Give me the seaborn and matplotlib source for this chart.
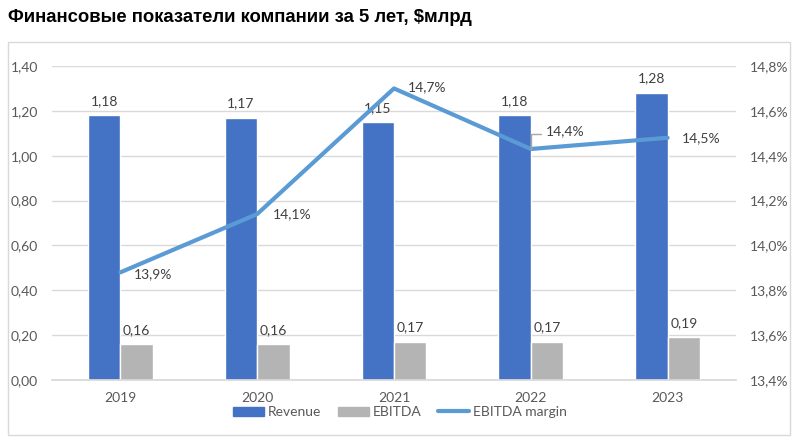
import numpy as np
import pandas as pd
import matplotlib
matplotlib.use("Agg")
import matplotlib.pyplot as plt
import seaborn as sns
from matplotlib.patches import Rectangle, Patch
from matplotlib.lines import Line2D

years = ["2019", "2020", "2021", "2022", "2023"]
revenue = [1.18, 1.17, 1.15, 1.18, 1.28]
ebitda = [0.16, 0.16, 0.17, 0.17, 0.19]
margin = [13.88, 14.14, 14.70, 14.43, 14.48]
margin_labels = ["13,9%", "14,1%", "14,7%", "14,4%", "14,5%"]
left_ticks = [0.0, 0.2, 0.4, 0.6, 0.8, 1.0, 1.2, 1.4]
right_ticks = [13.4, 13.6, 13.8, 14.0, 14.2, 14.4, 14.6, 14.8]

BLUE = "#4472C4"
GRAY = "#B4B4B4"
LINE = "#5B9BD5"
TXT = "#404040"
TICK = "#595959"

sns.set_theme(style="white")
plt.rcParams["font.family"] = ["Lato", "DejaVu Sans"]

W, H = 802, 443
fig = plt.figure(figsize=(W / 100, H / 100), dpi=100)
ax = fig.add_axes([52 / W, 1 - 380 / H, (736 - 52) / W, (380 - 66) / H])

df = pd.DataFrame({
    "year": years * 2,
    "value": revenue + ebitda,
    "series": ["Revenue"] * 5 + ["EBITDA"] * 5,
})
sns.barplot(data=df, x="year", y="value", hue="series", palette=[BLUE, GRAY],
            width=0.475, gap=0, ax=ax, legend=False, saturation=1)

ax.set_ylim(0, 1.4)
ax.set_xlim(-0.5, 4.5)
ax.set_yticks(left_ticks)
ax.set_yticklabels([f"{t:.2f}".replace(".", ",") for t in left_ticks], color=TICK, fontsize=10)
ax.set_xticklabels(years, color=TICK, fontsize=10)
ax.tick_params(axis="x", length=0, pad=9)
ax.tick_params(axis="y", length=0, pad=10)
ax.grid(axis="y", color="#D9D9D9", linewidth=1)
ax.set_axisbelow(True)
for s in ["top", "left", "right"]:
    ax.spines[s].set_visible(False)
ax.spines["bottom"].set_color("#D9D9D9")
ax.set_xlabel("")
ax.set_ylabel("")

# bar labels
for cont, vals in zip(ax.containers, [revenue, ebitda]):
    ax.bar_label(cont, labels=[f"{v:.2f}".replace(".", ",") for v in vals],
                 padding=6, color=TXT, fontsize=10)

ax2 = ax.twinx()
x = np.arange(len(years))
sns.lineplot(x=x, y=margin, ax=ax2, color=LINE, linewidth=3)
ax2.set_ylim(13.4, 14.8)
ax2.set_xlim(-0.5, 4.5)
ax2.set_yticks(right_ticks)
ax2.set_yticklabels([f"{t:.1f}%".replace(".", ",") for t in right_ticks], color=TICK, fontsize=10)
ax2.tick_params(axis="y", length=0, pad=10)
for s in ax2.spines.values():
    s.set_visible(False)
ax2.grid(False)

offsets = [(10, -1), (11, 0), (10, 1), (10.5, 12.5), (10, 0)]
for i, (m, lab) in enumerate(zip(margin, margin_labels)):
    ax2.annotate(lab, (x[i], m), xytext=offsets[i], textcoords="offset points",
                 ha="left", va="center", color=TXT, fontsize=10)
# leader line for 2022
ax2.annotate("", (x[3], margin[3]), xytext=(7, 11), textcoords="offset points",
             arrowprops=dict(arrowstyle="-", color="#A6A6A6", lw=1, shrinkA=0, shrinkB=0,
                             connectionstyle="angle,angleA=0,angleB=90,rad=0"))

# legend
handles = [Patch(color=BLUE), Patch(color=GRAY), Line2D([0], [0], color=LINE, lw=3)]
fig.legend(handles, ["Revenue", "EBITDA", "EBITDA margin"], loc="center",
           bbox_to_anchor=(400 / W, 1 - 412 / H), ncol=3, frameon=False,
           fontsize=10, labelcolor=TICK, handlelength=2.2, handleheight=0.6,
           columnspacing=1.2, handletextpad=0.3)

# outer chart border
fig.patches.append(Rectangle((8 / W, 1 - 435 / H), (790 - 8) / W, (435 - 42) / H,
                             transform=fig.transFigure, fill=False,
                             edgecolor="#D9D9D9", linewidth=1))

fig.text(8 / W, 1 - 17 / H, "Финансовые показатели компании за 5 лет, $млрд",
         fontsize=13.3, fontweight="bold", color="black", ha="left", va="center",
         family=["Liberation Sans", "DejaVu Sans"])

fig.savefig("out.png", dpi=100, facecolor="white")
